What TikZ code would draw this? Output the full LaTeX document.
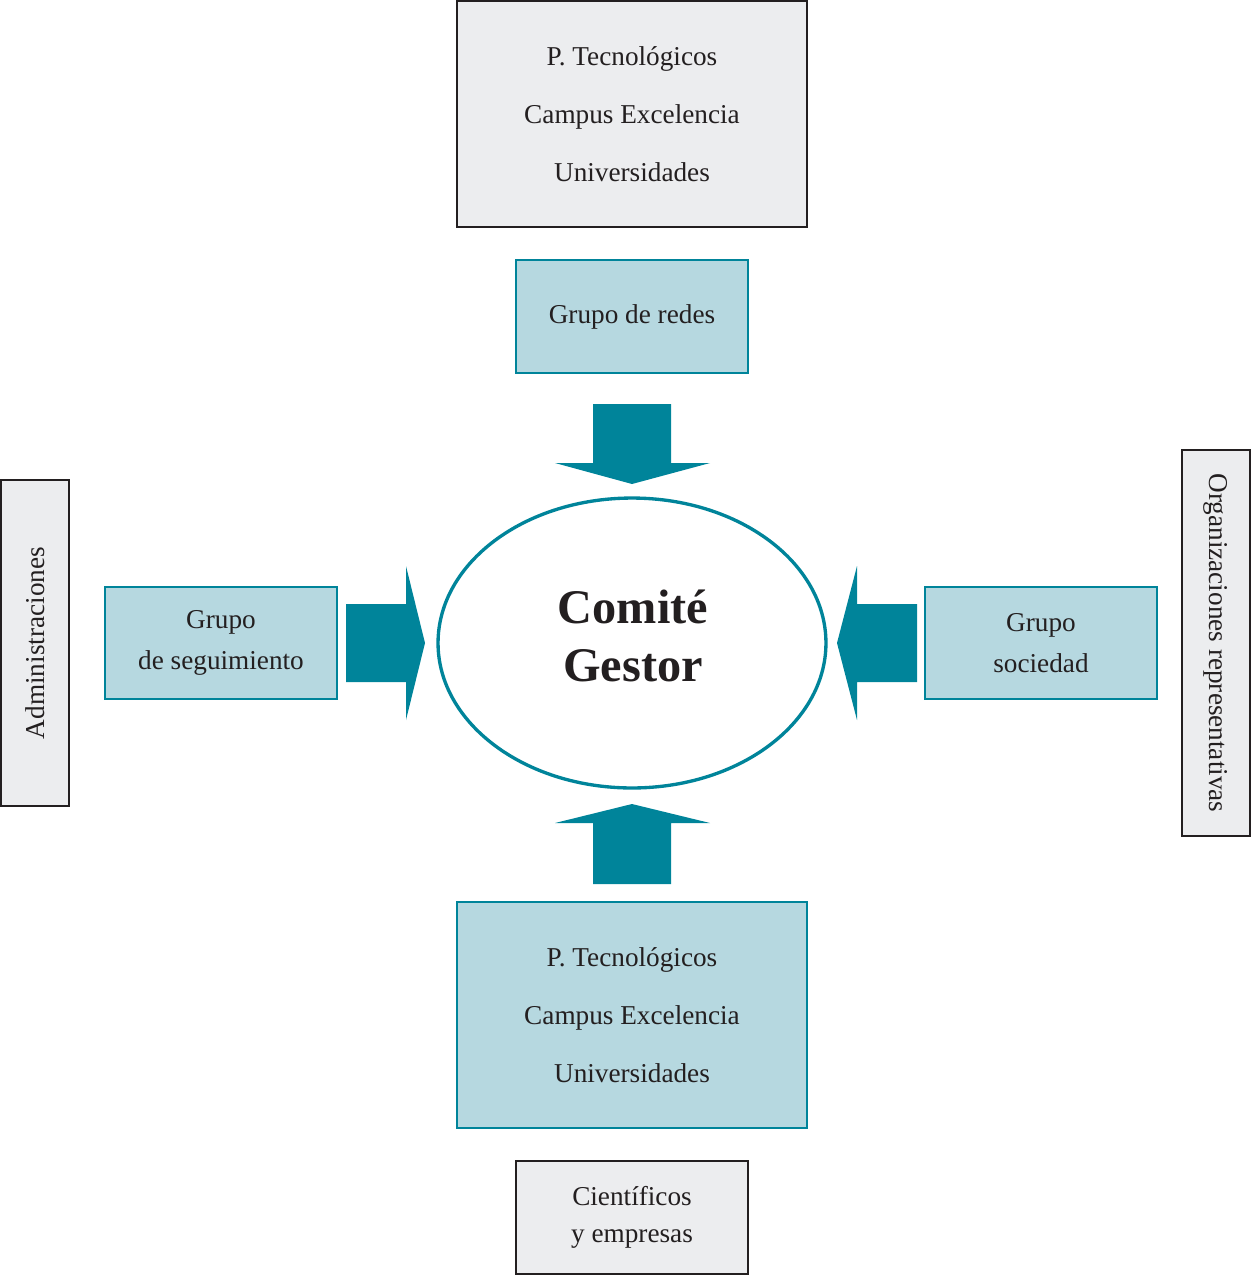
\documentclass[tikz,border=0pt]{standalone}
\usepackage{fontspec}
\setmainfont{Liberation Serif}
\usepackage{tikz}
\usetikzlibrary{shapes.geometric}
\definecolor{comiteteal}{RGB}{0,132,154}
\definecolor{boxblue}{RGB}{182,216,224}
\definecolor{boxgray}{RGB}{236,237,239}
\definecolor{inkdark}{RGB}{35,31,32}

\begin{document}
\begin{tikzpicture}[x=0.02cm,y=-0.02cm,
  every node/.style={text=inkdark,align=center,inner sep=0pt},
  graybox/.style={draw=inkdark,line width=1.1pt,fill=boxgray},
  bluebox/.style={draw=comiteteal,line width=1.1pt,fill=boxblue},
  txt/.style={font=\fontsize{15.5}{22}\selectfont}]
\useasboundingbox (0,0) rectangle (1251,1276);
% upper and lower blocks
\node[graybox,minimum width=7cm,minimum height=4.52cm,font=\fontsize{15.5}{33}\selectfont] (topbox) at (632,114)
  {P. Tecnológicos\\Campus Excelencia\\Universidades};
\node[bluebox,txt,minimum width=4.64cm,minimum height=2.26cm] (redes) at (632,316.5) {Grupo de redes};
\node[bluebox,minimum width=7cm,minimum height=4.52cm,font=\fontsize{15.5}{33}\selectfont] (botbox) at (632,1015)
  {P. Tecnológicos\\Campus Excelencia\\Universidades};
\node[graybox,minimum width=4.64cm,minimum height=2.26cm,font=\fontsize{15.5}{21}\selectfont] (cientif) at (632,1217.5)
  {Científicos\\y empresas};
% centre
\node[ellipse,draw=comiteteal,line width=1.9pt,fill=white,minimum width=7.76cm,minimum height=5.8cm] (comite) at (632,643) {};
\node[font=\fontsize{27.5}{33.5}\selectfont\bfseries] (comitetxt) at (633,636) {Comité\\Gestor};
% side blocks
\node[bluebox,minimum width=4.64cm,minimum height=2.24cm,font=\fontsize{15.5}{23}\selectfont] (seguim) at (221,643)
  {Grupo\\de seguimiento};
\node[bluebox,minimum width=4.64cm,minimum height=2.24cm,font=\fontsize{15.5}{23}\selectfont] (socied) at (1041,643)
  {Grupo\\sociedad};
\node[graybox,txt,rotate=90,minimum width=6.52cm,minimum height=1.36cm] (admin) at (35,643) {Administraciones};
\node[graybox,txt,rotate=-90,minimum width=7.72cm,minimum height=1.36cm] (organiz) at (1216,643) {Organizaciones representativas};
% block arrows
\fill[comiteteal] (593,404) -- (671,404) -- (671,463) -- (710,463) -- (632,484) -- (555,463) -- (593,463) -- cycle;
\fill[comiteteal] (593,884) -- (671,884) -- (671,823) -- (710,823) -- (632,804) -- (555,823) -- (593,823) -- cycle;
\fill[comiteteal] (346,604) -- (346,682) -- (406,682) -- (406,720) -- (425,643) -- (406,566) -- (406,604) -- cycle;
\fill[comiteteal] (917,604) -- (917,682) -- (857,682) -- (857,720) -- (837,643) -- (857,566) -- (857,604) -- cycle;
\end{tikzpicture}
\end{document}
